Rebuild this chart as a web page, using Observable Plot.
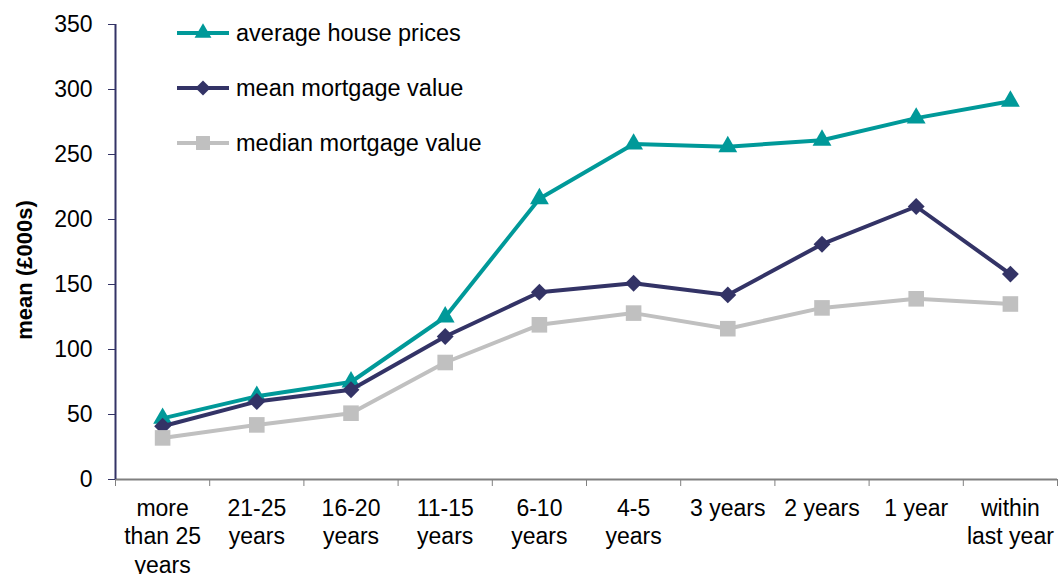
<!DOCTYPE html>
<html><head><meta charset="utf-8">
<script src="https://cdn.jsdelivr.net/npm/d3@7"></script>
<script src="https://cdn.jsdelivr.net/npm/@observablehq/plot@0.6"></script>
<style>
body{margin:0;background:#fff;font-family:"Liberation Sans",Arial,sans-serif;}
#chart{position:relative;width:1058px;height:574px;overflow:hidden;}
#legend{position:absolute;left:177px;top:0;}
.row{position:absolute;left:0;height:30px;display:flex;align-items:center;white-space:nowrap;font-size:23.5px;color:#000;}
.row svg{margin-right:7px;}
</style></head><body><div id="chart"><div id="legend"></div></div>
<script>
const categories = ["more\nthan 25\nyears","21-25\nyears","16-20\nyears","11-15\nyears","6-10\nyears","4-5\nyears","3 years","2 years","1 year","within\nlast year"];
const housePrices = [47, 64, 75, 125, 216, 258, 256, 261, 278, 291];
const meanMortgage = [41, 60, 69, 110, 144, 151, 142, 181, 210, 158];
const medianMortgage = [32, 42, 51, 90, 119, 128, 116, 132, 139, 135];
const seriesNames = ["average house prices","mean mortgage value","median mortgage value"];
const seriesColors = ["#009999","#333366","#c0c0c0"];
const seriesSymbols = ["triangle","diamond2","square"];
const symbolRadius = [7, 7.6, 8.8];
const yTicks = [0,50,100,150,200,250,300,350];
const yLabel = "mean (£000s)";

const seriesValues = [housePrices, meanMortgage, medianMortgage];
const rows = [];
seriesValues.forEach((vals, s) => vals.forEach((v, i) => rows.push({i, value: v, series: seriesNames[s]})));

const seriesMarks = [];
seriesNames.forEach((name, s) => {
  const data = rows.filter(d => d.series === name);
  seriesMarks.push(Plot.line(data, {x: "i", y: "value", stroke: seriesColors[s], strokeWidth: 4}));
  seriesMarks.push(Plot.dot(data, {x: "i", y: "value", symbol: seriesSymbols[s], fill: seriesColors[s], r: symbolRadius[s]}));
});

const boundaries = d3.range(categories.length + 1).map(i => i - 0.5);

const plot = Plot.plot({
  width: 1058, height: 574,
  marginLeft: 115, marginRight: 1, marginTop: 24, marginBottom: 95,
  style: {fontFamily: "Liberation Sans, Arial, sans-serif", fontSize: "23px", color: "#000", background: "#fff", overflow: "visible"},
  x: {type: "linear", domain: [-0.5, categories.length - 0.5]},
  y: {domain: [0, 350]},
  marks: [
    Plot.axisY({ticks: yTicks, tickSize: 7, tickPadding: 16, stroke: "#333366", fill: "#000", label: null}),
    Plot.axisX({ticks: d3.range(categories.length), tickSize: 0, tickPadding: 16, tickFormat: i => categories[i], label: null, fill: "#000", lineHeight: 1.24}),
    Plot.axisX({ticks: boundaries, tickSize: 7, tickFormat: () => "", stroke: "#808080", label: null}),
    Plot.ruleY([0], {stroke: "#808080", strokeWidth: 2}),
    Plot.ruleX([-0.5], {stroke: "#333366", strokeWidth: 2}),
    Plot.text([yLabel], {frameAnchor: "left", textAnchor: "middle", rotate: -90, dx: -91, dy: 18, fontWeight: "bold", fontSize: 22, fill: "#000"}),
    ...seriesMarks
  ]
});
document.getElementById("chart").prepend(plot);

// legend overlay
const legend = document.getElementById("legend");
const rowCenters = [33, 88, 143];
seriesNames.forEach((name, s) => {
  const row = document.createElement("div");
  row.className = "row";
  row.style.top = (rowCenters[s] - 15) + "px";
  const svg = d3.create("svg").attr("width", 52).attr("height", 30);
  svg.append("line").attr("x1", 0).attr("x2", 52).attr("y1", 15).attr("y2", 15).attr("stroke", seriesColors[s]).attr("stroke-width", 4);
  const symType = [d3.symbolTriangle, d3.symbolDiamond2, d3.symbolSquare][s];
  svg.append("path").attr("transform", "translate(26,15)").attr("d", d3.symbol(symType, Math.PI * symbolRadius[s] * symbolRadius[s] * 0.8)()).attr("fill", seriesColors[s]);
  row.appendChild(svg.node());
  const span = document.createElement("span");
  span.textContent = name;
  row.appendChild(span);
  legend.appendChild(row);
});
</script>
</body></html>
